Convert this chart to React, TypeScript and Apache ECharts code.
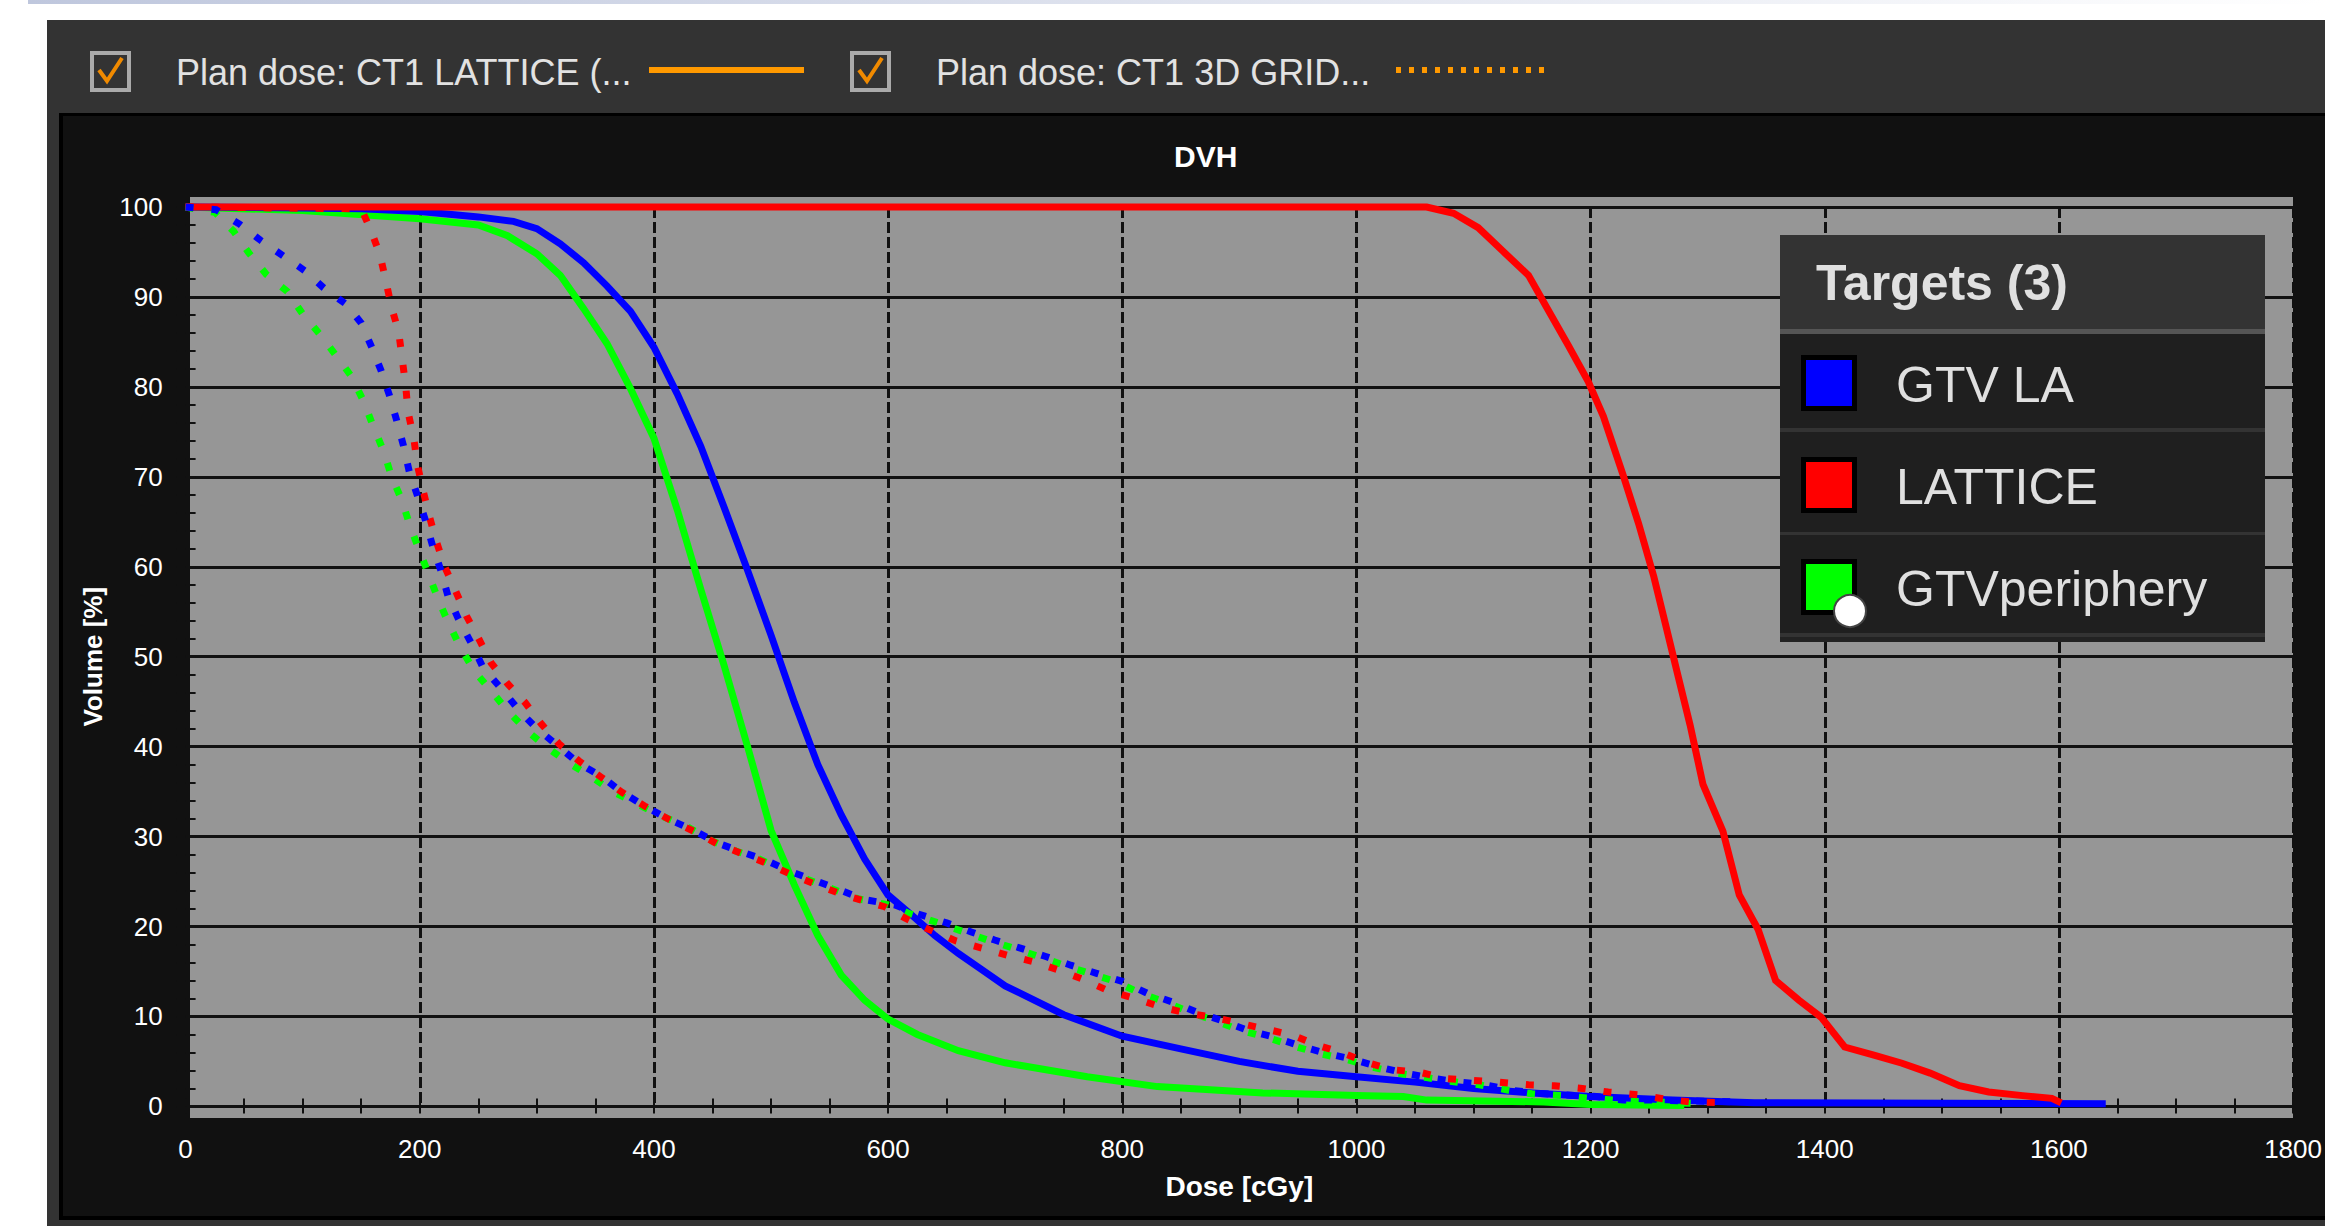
import React, { useEffect, useRef } from 'react';
import * as echarts from 'echarts';

// ---------- data ----------
const doseTickInterval = 200;
const volumeTickInterval = 10;

const planNames = ['Plan dose: CT1 LATTICE (...', 'Plan dose: CT1 3D GRID...'];
const structureNames = ['GTV LA', 'LATTICE', 'GTVperiphery'];
const structureColors = ['#0000ff', '#ff0000', '#00ff00'];

// LATTICE plan (solid lines): [dose cGy, volume %]
const latticeGtvLa: [number, number][] = [
  [0, 100], [100, 99.9], [150, 99.8], [200, 99.5], [250, 98.9], [280, 98.4], [300, 97.6], [320, 95.9],
  [340, 93.8], [360, 91.2], [380, 88.4], [400, 84.4], [420, 79.2], [440, 73.4], [460, 66.6], [480, 59.6],
  [500, 52.4], [520, 44.9], [540, 38.0], [560, 32.4], [580, 27.5], [600, 23.5], [620, 21.3], [640, 19.0],
  [660, 17.0], [680, 15.2], [700, 13.4], [750, 10.2], [800, 7.8], [850, 6.4], [900, 5.0], [950, 3.9],
  [1000, 3.3], [1050, 2.7], [1100, 2.0], [1150, 1.5], [1200, 1.1], [1270, 0.7], [1340, 0.4], [1640, 0.3],
];
const latticeLattice: [number, number][] = [
  [0, 100], [1060, 100], [1083, 99.3], [1104, 97.7], [1125, 95.1], [1147, 92.4], [1164, 88.5], [1181, 84.6],
  [1198, 80.6], [1211, 76.7], [1228, 70.1], [1241, 64.8], [1254, 58.9], [1264, 53.6], [1275, 47.7], [1285, 42.4],
  [1296, 35.8], [1313, 30.6], [1327, 23.5], [1343, 19.7], [1358, 14.0], [1378, 11.8], [1397, 9.9], [1417, 6.6],
  [1442, 5.7], [1466, 4.8], [1490, 3.7], [1515, 2.3], [1540, 1.6], [1569, 1.2], [1594, 0.9], [1602, 0.4],
];
const latticeGtvPeriphery: [number, number][] = [
  [0, 100], [100, 99.6], [200, 98.7], [250, 98.0], [275, 96.8], [300, 94.8], [320, 92.4], [340, 88.7],
  [360, 84.8], [380, 79.8], [400, 74.3], [420, 66.3], [440, 57.5], [460, 49.0], [480, 40.0], [500, 30.7],
  [520, 24.6], [540, 19.0], [560, 14.6], [580, 11.8], [600, 9.7], [625, 8.0], [660, 6.2], [700, 4.85],
  [770, 3.3], [830, 2.2], [920, 1.5], [1000, 1.2], [1040, 1.1], [1060, 0.7], [1160, 0.5], [1200, 0.2], [1280, 0.1],
];

// 3D GRID plan (dotted lines)
const gridGtvLa: [number, number][] = [
  [0, 100], [26, 99.7], [46, 98.1], [64, 96.3], [83, 94.6], [102, 92.9], [118, 91.0], [137, 89.2],
  [150, 87.1], [159, 84.4], [167, 81.8], [174, 79.1], [180, 76.4], [186, 73.5], [191, 70.6], [198, 67.9],
  [205, 65.1], [211, 62.3], [218, 59.6], [224, 56.8], [233, 54.2], [244, 51.5], [254, 48.8], [270, 46.4],
  [285, 44.0], [300, 42.0], [318, 40.1], [335, 38.2], [355, 36.7], [373, 34.9], [392, 33.4], [413, 31.9],
  [434, 30.7], [454, 29.3], [475, 28.3], [495, 27.4], [517, 26.1], [536, 25.2], [558, 24.1], [580, 23.0],
  [606, 22.4], [623, 21.5], [650, 20.4], [671, 19.4], [691, 18.5], [713, 17.6], [734, 16.7], [756, 15.7],
  [778, 14.8], [800, 13.9], [821, 12.6], [843, 11.6], [865, 10.4], [884, 9.6], [906, 8.5], [928, 7.75],
  [950, 6.8], [974, 5.9], [998, 5.2], [1019, 4.4], [1041, 3.7], [1066, 3.1], [1085, 2.75], [1110, 2.4],
  [1132, 1.8], [1156, 1.45], [1179, 1.27], [1205, 1.1], [1228, 0.7], [1252, 0.7], [1330, 0.5],
];
const gridLattice: [number, number][] = [
  [0, 100], [150, 99.8], [158, 97.5], [166, 94.7], [171, 91.8], [176, 88.8], [182, 86.1], [185, 83.1],
  [188, 80.1], [190, 77.2], [195, 74.2], [198, 71.3], [203, 68.4], [208, 65.7], [214, 62.9], [221, 60.1],
  [231, 57.2], [240, 54.5], [250, 52.1], [261, 49.3], [275, 47.0], [290, 44.9], [304, 42.5], [319, 40.3],
  [336, 38.4], [355, 36.6], [373, 34.9], [392, 33.4], [413, 31.9], [434, 30.6], [454, 29.2], [475, 28.1],
  [495, 27.1], [517, 25.8], [536, 24.8], [558, 23.7], [578, 22.9], [597, 22.2], [615, 20.9], [636, 19.6],
  [658, 18.4], [680, 17.6], [702, 16.8], [724, 16.1], [745, 15.2], [767, 14.1], [789, 12.8], [811, 12.0],
  [832, 11.1], [854, 10.4], [878, 9.9], [902, 9.2], [926, 8.5], [946, 7.9], [967, 6.8], [989, 5.9],
  [1009, 4.9], [1029, 4.1], [1054, 3.8], [1076, 3.1], [1098, 2.9], [1122, 2.7], [1147, 2.4], [1169, 2.3],
  [1193, 2.0], [1215, 1.6], [1240, 1.3], [1264, 0.8], [1285, 0.5], [1320, 0.4],
];
const gridGtvPeriphery: [number, number][] = [
  [0, 100], [25, 99.4], [41, 97.3], [54, 94.9], [69, 92.5], [87, 90.6], [100, 88.1], [115, 85.8],
  [129, 83.4], [142, 81.1], [152, 78.4], [160, 75.7], [169, 72.9], [176, 70.0], [185, 67.3], [192, 64.4],
  [200, 61.7], [208, 59.0], [216, 56.3], [225, 53.6], [235, 51.0], [246, 48.5], [261, 46.2], [275, 44.0],
  [292, 41.7], [310, 39.8], [327, 38.2], [346, 36.7], [365, 35.0], [386, 33.6], [406, 32.3], [427, 31.2],
  [448, 29.6], [470, 28.4], [490, 27.5], [510, 26.3], [530, 25.3], [552, 24.2], [574, 23.1], [600, 22.4],
  [617, 21.5], [643, 20.4], [665, 19.4], [685, 18.5], [707, 17.6], [728, 16.7], [750, 15.7], [772, 14.8],
  [794, 13.9], [815, 12.6], [837, 11.6], [859, 10.4], [878, 9.6], [900, 8.5], [922, 7.75], [944, 6.8],
  [968, 5.9], [992, 5.2], [1013, 4.4], [1035, 3.7], [1060, 3.2], [1080, 2.8], [1105, 2.4], [1130, 1.8],
  [1150, 1.4], [1175, 1.2], [1200, 0.9], [1230, 0.6], [1300, 0.3],
];

const FONT = '"Liberation Sans", Arial, sans-serif';
const ORANGE = '#ff9900';

function buildOption() {
  const solidStyle = (color: string) => ({ color, width: 7, cap: 'butt', join: 'miter', type: 'solid' });
  const dotStyle = (color: string) => ({ color, width: 7, cap: 'butt', join: 'miter', type: [8, 18] });
  const lineSeries = (name: string, data: [number, number][], lineStyle: any, z: number) => ({
    type: 'line', name, data, xAxisIndex: 0, yAxisIndex: 0, showSymbol: false, symbol: 'none',
    clip: false, silent: true, z, lineStyle,
  });

  const series = [
    lineSeries(structureNames[2] + ' / LATTICE', latticeGtvPeriphery, solidStyle(structureColors[2]), 2),
    lineSeries(structureNames[0] + ' / LATTICE', latticeGtvLa, solidStyle(structureColors[0]), 3),
    lineSeries(structureNames[1] + ' / LATTICE', latticeLattice, solidStyle(structureColors[1]), 4),
    lineSeries(structureNames[2] + ' / 3D GRID', gridGtvPeriphery, dotStyle(structureColors[2]), 5),
    lineSeries(structureNames[1] + ' / 3D GRID', gridLattice, dotStyle(structureColors[1]), 6),
    lineSeries(structureNames[0] + ' / 3D GRID', gridGtvLa, dotStyle(structureColors[0]), 7),
  ];

  const tickStyle = { color: '#111', width: 2 };

  const lx = 1780, lw = 485;
  const graphic: any[] = [
    // page top strip
    { type: 'rect', z: -100, silent: true, shape: { x: 28, y: 0, width: 2297, height: 4 },
      style: { fill: new echarts.graphic.LinearGradient(0, 0, 1, 0, [
        { offset: 0, color: '#bfc7dd' }, { offset: 0.6, color: '#e6e9f2' }, { offset: 1, color: '#ffffff' }]) } },
    // outer panel
    { type: 'rect', z: -100, silent: true, shape: { x: 47, y: 20, width: 2278, height: 1206 }, style: { fill: '#333333' } },
    { type: 'rect', z: -99, silent: true, shape: { x: 59, y: 113, width: 2266, height: 1107 }, style: { fill: '#000000' } },
    { type: 'rect', z: -98, silent: true, shape: { x: 63, y: 116, width: 2262, height: 1100 }, style: { fill: '#111111' } },
    // plot background
    { type: 'rect', z: -97, silent: true, shape: { x: 190, y: 197, width: 2103, height: 921 }, style: { fill: '#969696' } },
    // header checkboxes + plan names
    { type: 'rect', z: 10, silent: true, shape: { x: 92, y: 53, width: 37, height: 37 }, style: { fill: '#333333', stroke: '#aaaaaa', lineWidth: 4 } },
    { type: 'polyline', z: 11, silent: true, shape: { points: [[99, 70], [107, 81], [122, 58]] }, style: { stroke: '#f08a00', lineWidth: 4, fill: null } },
    { type: 'text', z: 10, silent: true, style: { text: planNames[0], x: 176, y: 72, fill: '#e2e2e2', fontSize: 36, fontFamily: FONT, align: 'left', verticalAlign: 'middle' } },
    { type: 'line', z: 10, silent: true, shape: { x1: 649, y1: 70, x2: 804, y2: 70 }, style: { stroke: ORANGE, lineWidth: 6 } },
    { type: 'rect', z: 10, silent: true, shape: { x: 852, y: 53, width: 37, height: 37 }, style: { fill: '#333333', stroke: '#aaaaaa', lineWidth: 4 } },
    { type: 'polyline', z: 11, silent: true, shape: { points: [[859, 70], [867, 81], [882, 58]] }, style: { stroke: '#f08a00', lineWidth: 4, fill: null } },
    { type: 'text', z: 10, silent: true, style: { text: planNames[1], x: 936, y: 72, fill: '#e2e2e2', fontSize: 36, fontFamily: FONT, align: 'left', verticalAlign: 'middle' } },
    { type: 'line', z: 10, silent: true, shape: { x1: 1396, y1: 70, x2: 1551, y2: 70 }, style: { stroke: ORANGE, lineWidth: 6, lineDash: [5, 8] } },
    // Targets legend box
    { type: 'rect', z: 100, silent: true, shape: { x: lx, y: 235, width: lw, height: 94 }, style: { fill: '#333333' } },
    { type: 'rect', z: 100, silent: true, shape: { x: lx, y: 329, width: lw, height: 5 }, style: { fill: '#555555' } },
    { type: 'rect', z: 100, silent: true, shape: { x: lx, y: 334, width: lw, height: 94 }, style: { fill: '#1f1f1f' } },
    { type: 'rect', z: 100, silent: true, shape: { x: lx, y: 428, width: lw, height: 4 }, style: { fill: '#333333' } },
    { type: 'rect', z: 100, silent: true, shape: { x: lx, y: 432, width: lw, height: 100 }, style: { fill: '#1f1f1f' } },
    { type: 'rect', z: 100, silent: true, shape: { x: lx, y: 532, width: lw, height: 3 }, style: { fill: '#333333' } },
    { type: 'rect', z: 100, silent: true, shape: { x: lx, y: 535, width: lw, height: 98 }, style: { fill: '#1f1f1f' } },
    { type: 'rect', z: 100, silent: true, shape: { x: lx, y: 633, width: lw, height: 4 }, style: { fill: '#333333' } },
    { type: 'rect', z: 100, silent: true, shape: { x: lx, y: 637, width: lw, height: 5 }, style: { fill: '#222222' } },
    { type: 'text', z: 101, silent: true, style: { text: 'Targets (3)', x: 1816, y: 283, fill: '#e0e0e0', fontSize: 50, fontWeight: 'bold', fontFamily: FONT, align: 'left', verticalAlign: 'middle' } },
  ];
  const rowCenters = [383, 485, 587];
  structureNames.forEach((name, i) => {
    const cy = rowCenters[i];
    graphic.push({ type: 'rect', z: 101, silent: true, shape: { x: 1801, y: cy - 28, width: 56, height: 56 }, style: { fill: '#000000' } });
    graphic.push({ type: 'rect', z: 102, silent: true, shape: { x: 1806, y: cy - 23, width: 46, height: 46 }, style: { fill: structureColors[i] } });
    graphic.push({ type: 'text', z: 101, silent: true, style: { text: name, x: 1896, y: cy + 2, fill: '#e0e0e0', fontSize: 50, fontFamily: FONT, align: 'left', verticalAlign: 'middle' } });
  });
  graphic.push({ type: 'circle', z: 103, silent: true, shape: { cx: 1850, cy: 611, r: 16 }, style: { fill: '#ffffff', stroke: '#444444', lineWidth: 2 } });

  return {
    animation: false,
    backgroundColor: 'transparent',
    title: {
      text: 'DVH', left: 1174, top: 141, padding: 0,
      textStyle: { color: '#ffffff', fontSize: 30, fontWeight: 'bold', fontFamily: FONT },
    },
    grid: { left: 185.6, top: 207, width: 2109.8, height: 899.4, show: false, containLabel: false },
    xAxis: [
      {
        type: 'value', position: 'bottom', min: 0, max: 1800, interval: doseTickInterval,
        name: 'Dose [cGy]', nameLocation: 'middle', nameGap: 66,
        nameTextStyle: { color: '#ffffff', fontSize: 28, fontWeight: 'bold', fontFamily: FONT },
        axisLine: { show: false },
        axisTick: { show: true, inside: true, length: 8, lineStyle: tickStyle },
        minorTick: { show: true, splitNumber: 4, length: 8, lineStyle: tickStyle },
        axisLabel: { color: '#ffffff', fontSize: 26, margin: 30, fontFamily: FONT, formatter: (v: number) => String(v) },
        splitLine: { show: true, lineStyle: { color: '#111111', width: 3, type: [11, 4] } },
      },
      {
        type: 'value', position: 'top', min: 0, max: 1800, interval: doseTickInterval,
        axisLine: { show: false }, axisLabel: { show: false },
        axisTick: { show: true, inside: true, length: 7, lineStyle: tickStyle },
        minorTick: { show: true, splitNumber: 4, length: 7, lineStyle: tickStyle },
        splitLine: { show: false },
      },
    ],
    yAxis: [
      {
        type: 'value', position: 'left', min: 0, max: 100, interval: volumeTickInterval,
        name: 'Volume [%]', nameLocation: 'middle', nameGap: 80, nameRotate: 90,
        nameTextStyle: { color: '#ffffff', fontSize: 26, fontWeight: 'bold', fontFamily: FONT },
        axisLine: { show: false },
        axisTick: { show: true, inside: true, length: 10, lineStyle: tickStyle },
        minorTick: { show: true, splitNumber: 5, length: 10, lineStyle: tickStyle },
        axisLabel: { color: '#ffffff', fontSize: 26, margin: 23, fontFamily: FONT, formatter: (v: number) => String(v) },
        splitLine: { show: true, lineStyle: { color: '#111111', width: 3, type: 'solid' } },
      },
      {
        type: 'value', position: 'right', min: 0, max: 100, interval: volumeTickInterval,
        axisLine: { show: false }, axisLabel: { show: false },
        axisTick: { show: true, inside: true, length: 9, lineStyle: tickStyle },
        minorTick: { show: true, splitNumber: 5, length: 9, lineStyle: tickStyle },
        splitLine: { show: false },
      },
    ],
    graphic,
    series,
  };
}

export default function App() {
  const ref = useRef<HTMLDivElement>(null);
  useEffect(() => {
    if (!ref.current) return;
    const chart = echarts.init(ref.current, null, { renderer: 'svg' });
    chart.setOption(buildOption() as any);
    return () => chart.dispose();
  }, []);
  return (
    <div
      ref={ref}
      style={{ position: 'fixed', left: 0, top: 0, width: 2325, height: 1226, background: '#ffffff' }}
    />
  );
}
